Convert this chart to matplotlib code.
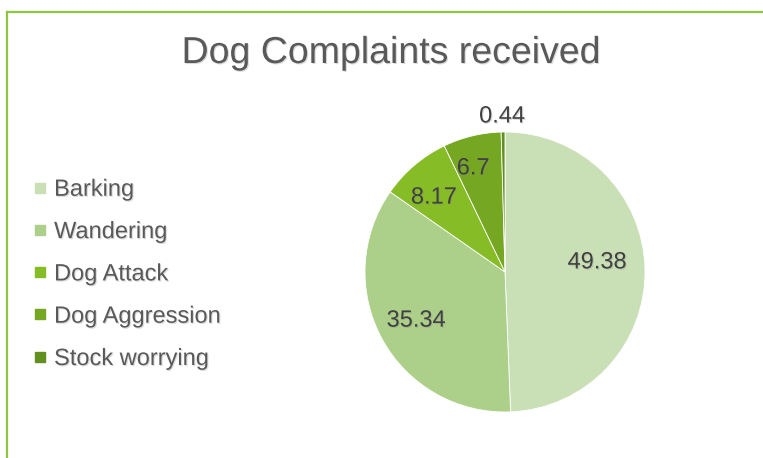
import numpy as np
import matplotlib
matplotlib.use("Agg")
import matplotlib.pyplot as plt
import matplotlib.patheffects as pe
from matplotlib.lines import Line2D

categories = ["Barking", "Wandering", "Dog Attack", "Dog Aggression", "Stock worrying"]
values = [49.38, 35.34, 8.17, 6.7, 0.44]
colors = ["#C9DFB5", "#ACD08A", "#86BC25", "#76A723", "#62901E"]
title = "Dog Complaints received"

# data label placement: radius fraction and angle nudge (deg) from wedge middle
label_r = [0.661, 0.724, 0.735, 0.774, 1.111]
label_dtheta = [4.8, 0.0, 3.3, 3.4, 0.3]

plt.rcParams["font.family"] = ["Liberation Sans", "DejaVu Sans"]
shadow = [pe.SimplePatchShadow(offset=(0.8, -0.8), alpha=0.3, shadow_rgbFace="#888888"), pe.Normal()]

W, H = 763, 458
fig = plt.figure(figsize=(W / 100, H / 100), dpi=100)
fig.patch.set_facecolor("white")

# green frame (top + left)
fig.add_artist(Line2D([7 / W, 1], [1 - 12 / H, 1 - 12 / H], color="#8DC63F", lw=1.6))
fig.add_artist(Line2D([7 / W, 7 / W], [0, 1 - 12 / H], color="#8DC63F", lw=1.6))

cx, cy, r = 505, 272, 140
ax = fig.add_axes([(cx - r) / W, (H - cy - r) / H, 2 * r / W, 2 * r / H])
wedges, _ = ax.pie(values, colors=colors, startangle=90, counterclock=False,
                   radius=1, frame=False,
                   wedgeprops=dict(edgecolor="white", linewidth=0.6))
ax.set_xlim(-1, 1)
ax.set_ylim(-1, 1)
ax.set_aspect("equal")
ax.axis("off")

for w, v, lr, dt in zip(wedges, values, label_r, label_dtheta):
    mid = np.deg2rad((w.theta1 + w.theta2) / 2 + dt)
    ax.text(lr * np.cos(mid), lr * np.sin(mid), f"{v:g}", ha="center", va="center",
            fontsize=17, color="#404040", path_effects=shadow, clip_on=False)

fig.text(391 / W, 1 - 53 / H, title, ha="center", va="center", fontsize=27,
         color="#595959", path_effects=shadow)

handles = [Line2D([], [], marker="s", linestyle="none", markersize=7.5,
                  markerfacecolor=c, markeredgecolor=c) for c in colors]
leg = fig.legend(handles, categories, loc="upper left",
                 bbox_to_anchor=(21 / W, 1 - 167 / H), frameon=False,
                 fontsize=17, labelcolor="#595959", handlelength=0.6,
                 handletextpad=0.3, labelspacing=0.86, borderpad=0)
for t in leg.get_texts():
    t.set_path_effects(shadow)

fig.savefig("out.png", dpi=100)
